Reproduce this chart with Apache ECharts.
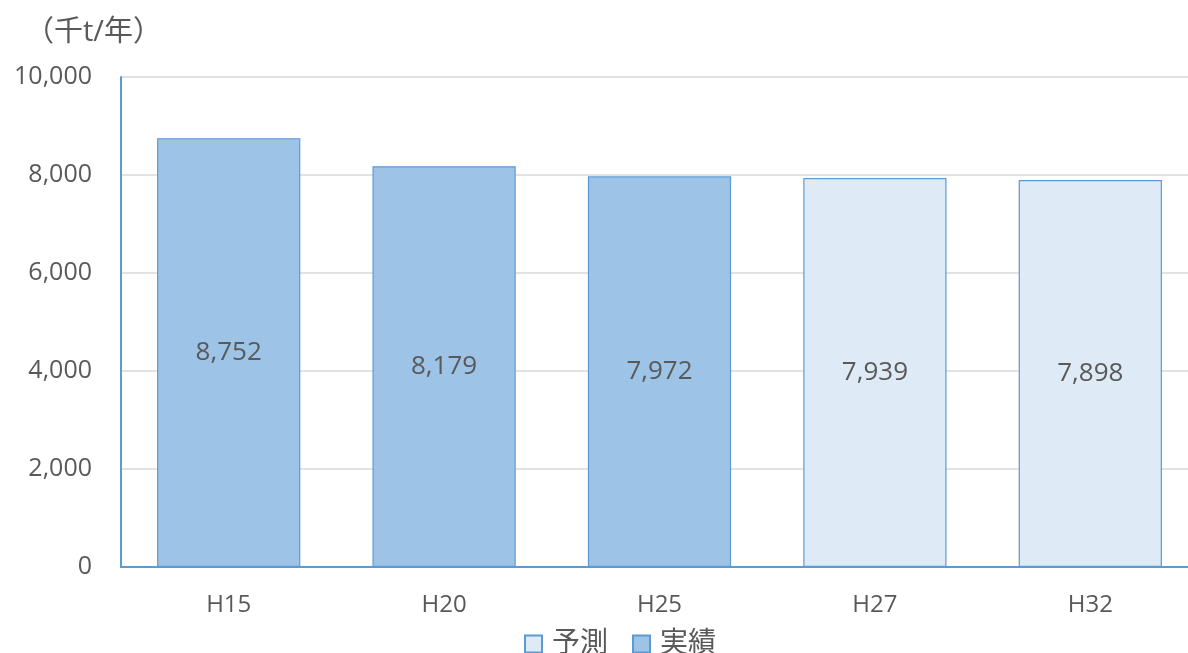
<!DOCTYPE html>
<html>
<head>
<meta charset="utf-8">
<script src="https://cdn.jsdelivr.net/npm/echarts@6/dist/echarts.min.js"></script>
<style>
  html, body { margin: 0; padding: 0; background: #fff; overflow: hidden; }
  #chart { width: 1188px; height: 653px; }
</style>
</head>
<body>
<div id="chart"></div>
<script>
// Fiscal years (Heisei era)
const categories = ['H15', 'H20', 'H25', 'H27', 'H32'];
// Recorded values (thousand t / year)
const actualValues = [8752, 8179, 7972, null, null];
// Projected values (thousand t / year)
const forecastValues = [null, null, null, 7939, 7898];
const yTicks = { min: 0, max: 10000, interval: 2000 };

const FONT = '"Open Sans", "Noto Sans CJK JP", sans-serif';
const TEXT = '#595959';

const chart = echarts.init(document.getElementById('chart'));

const labelOpt = {
  show: true,
  position: 'inside',
  color: TEXT,
  fontSize: 26,
  fontFamily: FONT,
  formatter: p => p.value == null ? '' : p.value.toLocaleString('en-US')
};

chart.setOption({
  animation: false,
  textStyle: { fontFamily: FONT },
  // plot area runs slightly past the right edge of the canvas
  grid: { left: 121, top: 77, width: 1077, bottom: 86, outerBoundsMode: 'none' },
  graphic: [{
    type: 'text', left: 25, top: 18,
    style: { text: '（千t/年）', fill: TEXT, font: '29px ' + FONT }
  }],
  legend: {
    top: 625, left: 519,
    icon: 'rect',
    itemWidth: 17, itemHeight: 17, itemGap: 24,
    textStyle: { color: TEXT, fontSize: 28, fontFamily: FONT, padding: [0, 0, 0, 5] },
    data: ['予測', '実績']
  },
  xAxis: {
    type: 'category',
    data: categories,
    axisLine: { lineStyle: { color: '#5B9BD5', width: 2 } },
    axisTick: { show: false },
    axisLabel: { color: TEXT, fontSize: 24, margin: 26, fontFamily: FONT }
  },
  yAxis: {
    type: 'value',
    min: yTicks.min, max: yTicks.max, interval: yTicks.interval,
    axisLine: { show: true, lineStyle: { color: '#5B9BD5', width: 2 } },
    axisTick: { show: false },
    splitLine: { lineStyle: { color: '#D9D9D9', width: 1.5 } },
    axisLabel: {
      color: TEXT, fontSize: 25, margin: 29, fontFamily: FONT,
      formatter: v => v.toLocaleString('en-US')
    }
  },
  series: [
    {
      name: '予測', type: 'bar', stack: 'v',
      data: forecastValues,
      barWidth: '66.5%',
      itemStyle: { color: '#DEEBF7', borderColor: '#5B9BD5', borderWidth: 1.2 },
      label: labelOpt
    },
    {
      name: '実績', type: 'bar', stack: 'v',
      data: actualValues,
      barWidth: '66.5%',
      itemStyle: { color: '#9DC3E6', borderColor: '#5B9BD5', borderWidth: 1.2 },
      label: labelOpt
    }
  ]
});
</script>
</body>
</html>
